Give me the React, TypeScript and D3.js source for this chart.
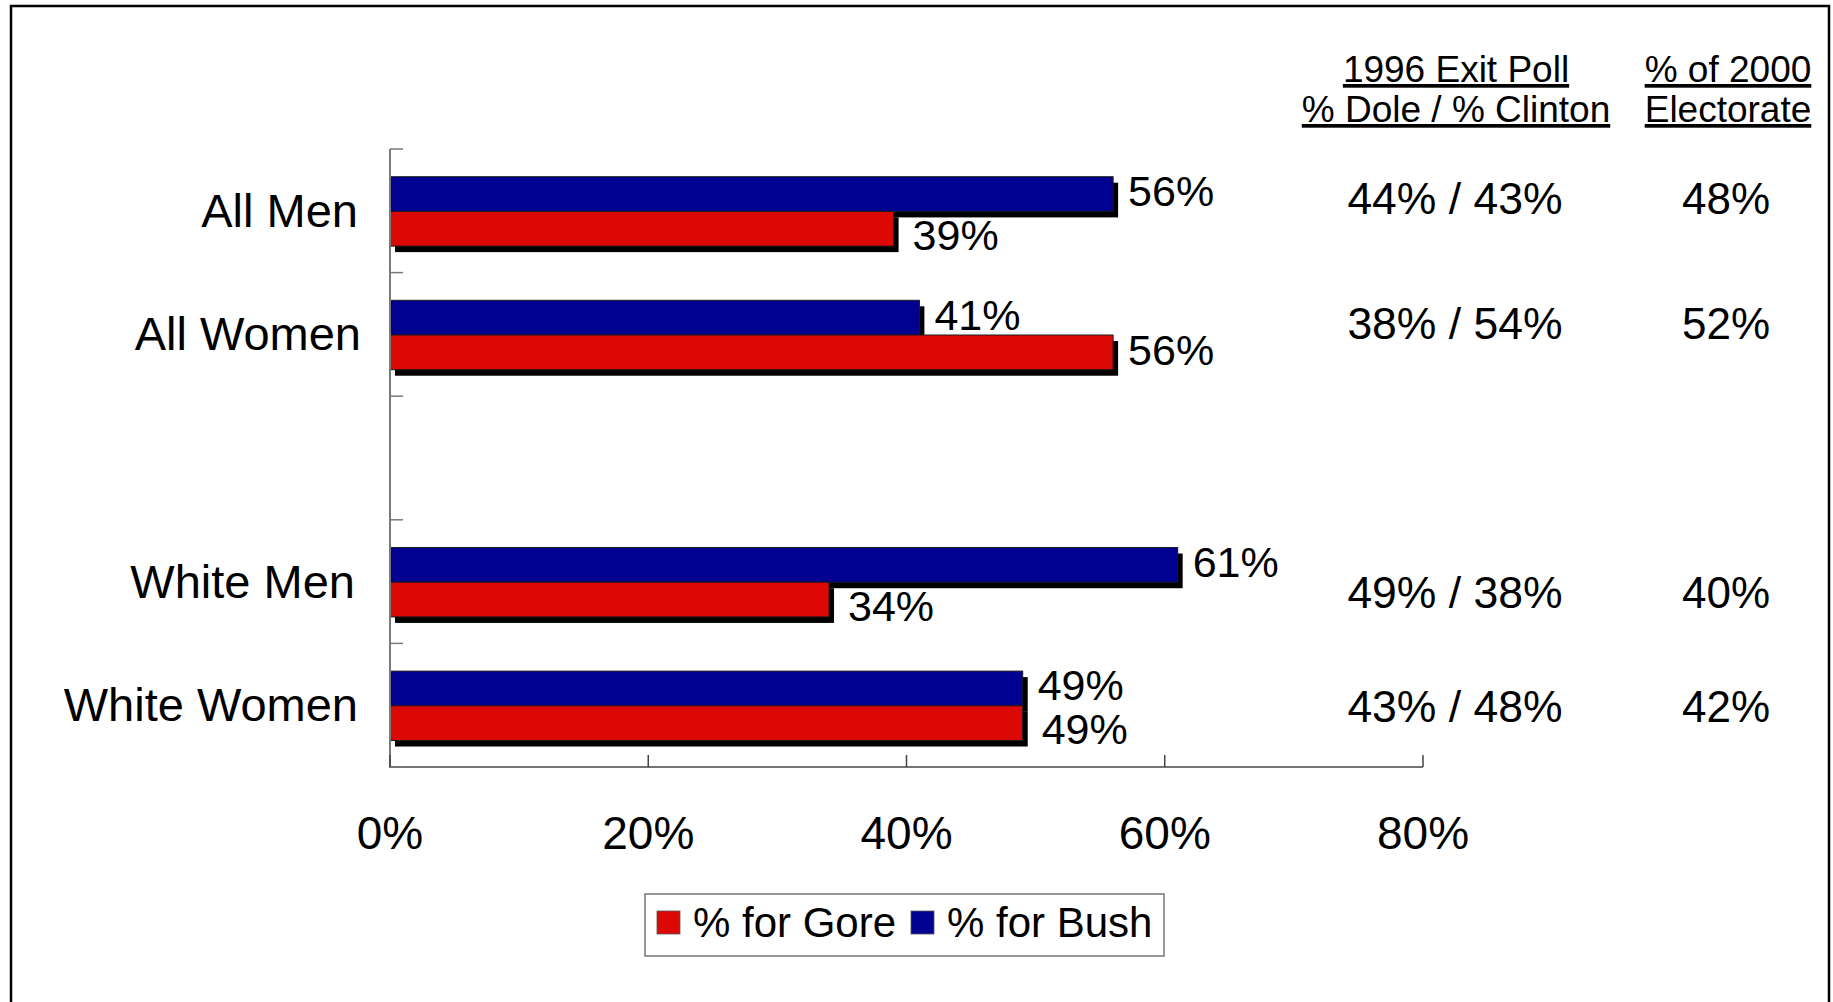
import React from "react";
import * as d3 from "d3";

const categories = ["All Men", "All Women", "", "White Men", "White Women"];
const bushPct: (number | null)[] = [56, 41, null, 61, 49];
const gorePct: (number | null)[] = [39, 56, null, 34, 49];
const exitPoll1996: (string | null)[] = ["44% / 43%", "38% / 54%", null, "49% / 38%", "43% / 48%"];
const electorate2000: (string | null)[] = ["48%", "52%", null, "40%", "42%"];
const xTicks = [0, 20, 40, 60, 80];
const seriesNames = ["% for Gore", "% for Bush"];
const headerExit = ["1996 Exit Poll", "% Dole / % Clinton"];
const headerElect = ["% of 2000", "Electorate"];

// layout constants
const W = 1833;
const H = 1002;
const FONT = "'Liberation Sans', Arial, Helvetica, sans-serif";
const BLUE = "#000091";
const RED = "#DC0806";
const rowNudge = [-12, -11, 0, 11, 1];
const catLabelRight = [358, 361, 358, 355, 358];

export default function App() {
  const slotKeys = categories.map((_, i) => String(i));
  const x = d3.scaleLinear().domain([0, 80]).range([390, 1423]);
  const y = d3.scaleBand<string>().domain(slotKeys).range([149, 767]).padding(0);
  const bw = y.bandwidth();
  const groupH = 69.4;
  const inner = d3
    .scaleBand<string>()
    .domain(["bush", "gore"])
    .range([bw * 0.505 - groupH / 2, bw * 0.505 + groupH / 2])
    .padding(0);
  const barH = inner.bandwidth();
  const shadowDx = 5;
  const shadowDy = 6;
  const boundaries = d3.range(categories.length + 1).map((i) => 149 + i * bw);

  const bars: { key: string; val: number; color: string; yTop: number; series: string; under: boolean }[] = [];
  categories.forEach((_, i) => {
    const b = bushPct[i];
    const g = gorePct[i];
    const slotTop = y(String(i)) as number;
    const under = b != null && g != null && b >= g;
    if (b != null)
      bars.push({ key: `b${i}`, val: b, color: BLUE, yTop: slotTop + (inner("bush") as number), series: "bush", under });
    if (g != null)
      bars.push({ key: `g${i}`, val: g, color: RED, yTop: slotTop + (inner("gore") as number), series: "gore", under });
  });

  const labelDy = (d: { series: string; under: boolean }) =>
    d.series === "bush" ? 12 : d.under ? 21 : 13;
  const labelDx = (d: { series: string; under: boolean }) =>
    d.series === "gore" && d.under ? 19 : 15;

  return (
    <svg
      width={W}
      height={H}
      style={{ position: "fixed", left: 0, top: 0, background: "#fff" }}
      fontFamily={FONT}
    >
      <rect x={0} y={0} width={W} height={H} fill="#fff" />
      {/* outer frame */}
      <rect x={11} y={6} width={1818} height={1020} fill="none" stroke="#000" strokeWidth={2.5} />

      {/* shadows */}
      {bars.map((d) => (
        <rect
          key={"s" + d.key}
          x={x(0) + shadowDx}
          y={d.yTop + shadowDy}
          width={x(d.val) - x(0)}
          height={barH}
          fill="#000"
        />
      ))}
      {/* bars */}
      {bars.map((d) => (
        <rect
          key={d.key}
          x={x(0)}
          y={d.yTop}
          width={x(d.val) - x(0)}
          height={barH}
          fill={d.color}
          stroke="#1a1a1a"
          strokeWidth={1}
        />
      ))}

      {/* axes */}
      <line x1={x(0)} x2={x(0)} y1={149} y2={767} stroke="#7a7a7a" strokeWidth={2} />
      <line x1={x(0) - 1} x2={x(80)} y1={767} y2={767} stroke="#444" strokeWidth={1.5} />
      {boundaries.map((b, i) => (
        <line key={"yt" + i} x1={x(0)} x2={x(0) + 13} y1={b} y2={b} stroke="#7a7a7a" strokeWidth={1.5} />
      ))}
      {xTicks.map((t) => (
        <g key={"xt" + t}>
          <line x1={x(t)} x2={x(t)} y1={767} y2={755} stroke="#444" strokeWidth={1.5} />
          <text x={x(t)} y={849} fontSize={46} textAnchor="middle" fill="#000">
            {t}%
          </text>
        </g>
      ))}

      {/* category labels */}
      {categories.map((c, i) =>
        c ? (
          <text
            key={"c" + i}
            x={catLabelRight[i]}
            y={(y(String(i)) as number) + bw / 2 + 16}
            fontSize={47}
            textAnchor="end"
            fill="#000"
          >
            {c}
          </text>
        ) : null
      )}

      {/* data labels */}
      {bars.map((d) => (
        <text
          key={"l" + d.key}
          x={x(d.val) + labelDx(d)}
          y={d.yTop + barH / 2 + labelDy(d)}
          fontSize={43}
          fill="#000"
        >
          {d.val}%
        </text>
      ))}

      {/* right side headers */}
      {headerExit.map((h, i) => (
        <text
          key={"he" + i}
          x={1456}
          y={82 + i * 40}
          fontSize={37}
          textAnchor="middle"
          style={{ textDecoration: "underline" }}
          fill="#000"
        >
          {h}
        </text>
      ))}
      {headerElect.map((h, i) => (
        <text
          key={"hl" + i}
          x={1728}
          y={82 + i * 40}
          fontSize={37}
          textAnchor="middle"
          style={{ textDecoration: "underline" }}
          fill="#000"
        >
          {h}
        </text>
      ))}

      {/* right side values */}
      {categories.map((_, i) => {
        const cy = (y(String(i)) as number) + bw / 2 + rowNudge[i] + 15.5;
        return (
          <g key={"r" + i}>
            {exitPoll1996[i] && (
              <text x={1455} y={cy} fontSize={44.5} textAnchor="middle" fill="#000">
                {exitPoll1996[i]}
              </text>
            )}
            {electorate2000[i] && (
              <text x={1726} y={cy} fontSize={44} textAnchor="middle" fill="#000">
                {electorate2000[i]}
              </text>
            )}
          </g>
        );
      })}

      {/* legend */}
      <rect x={645} y={894} width={519} height={62} fill="#fff" stroke="#777" strokeWidth={1.5} />
      {seriesNames.map((s, i) => {
        const sx = i === 0 ? 657 : 911;
        return (
          <g key={"lg" + i}>
            <rect x={sx} y={911} width={23} height={23} fill={i === 0 ? RED : BLUE} stroke="#555" strokeWidth={0.8} />
            <text x={sx + 36} y={937} fontSize={42} fill="#000">
              {s}
            </text>
          </g>
        );
      })}
    </svg>
  );
}
